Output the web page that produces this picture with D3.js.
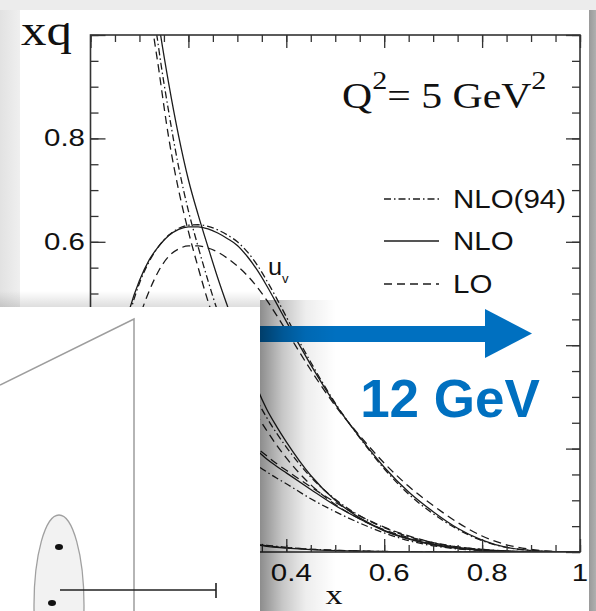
<!DOCTYPE html>
<html>
<head>
<meta charset="utf-8">
<script src="https://cdn.jsdelivr.net/npm/d3@7"></script>
<style>
  html, body { margin: 0; padding: 0; background: #ececec; }
  svg { display: block; }
</style>
</head>
<body>
<div id="chart"></div>
<script>
// x grid shared by every curve
const xs = [0.01,0.02,0.04,0.06,0.08,0.10,0.12,0.14,0.16,0.18,0.20,0.22,0.24,0.26,0.28,0.30,0.32,0.34,0.36,0.38,0.40,0.45,0.50,0.55,0.60,0.65,0.70,0.75,0.80,0.85,0.90,0.95,1.0];

// u valence
const uvNLO94 = [0.13,0.19,0.29,0.38,0.46,0.52,0.562,0.592,0.613,0.626,0.632,0.633,0.630,0.623,0.613,0.600,0.581,0.556,0.525,0.491,0.455,0.367,0.288,0.221,0.161,0.112,0.074,0.044,0.022,0.009,0.003,0.0005,0];
const uvNLO   = [0.14,0.20,0.30,0.39,0.47,0.525,0.565,0.592,0.612,0.624,0.629,0.629,0.625,0.617,0.606,0.593,0.572,0.546,0.515,0.481,0.446,0.362,0.286,0.222,0.164,0.116,0.078,0.046,0.023,0.009,0.003,0.0005,0];
const uvLO    = [0.10,0.16,0.25,0.33,0.40,0.455,0.505,0.545,0.572,0.586,0.592,0.592,0.588,0.58,0.568,0.553,0.535,0.513,0.487,0.458,0.428,0.352,0.283,0.225,0.172,0.127,0.09,0.057,0.031,0.014,0.005,0.001,0];

// gluon (steep curve)
const gNLO94 = [6.3,4.6,3.0,2.2,1.7,1.38,1.12,0.97,0.85,0.745,0.66,0.59,0.525,0.465,0.415,0.37,0.33,0.293,0.26,0.23,0.203,0.145,0.102,0.07,0.047,0.03,0.018,0.01,0.005,0.002,0.0005,0.0001,0];
const gNLO   = [6.0,4.4,2.9,2.15,1.68,1.35,1.16,1.02,0.905,0.805,0.72,0.652,0.59,0.53,0.475,0.422,0.372,0.318,0.276,0.243,0.213,0.148,0.10,0.066,0.042,0.026,0.015,0.008,0.004,0.0015,0.0004,0.0001,0];
const gLO    = [7.0,5.0,3.1,2.2,1.65,1.32,1.07,0.93,0.80,0.70,0.62,0.55,0.485,0.43,0.38,0.34,0.30,0.265,0.235,0.207,0.182,0.13,0.092,0.064,0.043,0.028,0.017,0.01,0.005,0.002,0.0005,0.0001,0];

// d valence
const dvNLO94 = [0.055,0.085,0.13,0.16,0.185,0.205,0.222,0.235,0.244,0.249,0.25,0.247,0.24,0.229,0.215,0.2,0.183,0.168,0.155,0.143,0.132,0.103,0.078,0.056,0.037,0.022,0.012,0.006,0.0025,0.001,0.0003,0,0];
const dvNLO   = [0.06,0.09,0.14,0.175,0.205,0.23,0.25,0.265,0.276,0.283,0.285,0.282,0.274,0.262,0.248,0.232,0.215,0.197,0.18,0.166,0.153,0.121,0.09,0.064,0.041,0.025,0.014,0.007,0.003,0.001,0.0003,0,0];
const dvLO    = [0.045,0.07,0.11,0.145,0.172,0.195,0.215,0.232,0.245,0.255,0.262,0.265,0.263,0.256,0.245,0.232,0.217,0.201,0.186,0.171,0.158,0.126,0.096,0.07,0.048,0.031,0.018,0.009,0.004,0.0015,0.0004,0,0];

// sea (not drawn below x = 0.06 in the picture)
const seaNLO94 = [null,null,null,0.31,0.235,0.18,0.143,0.115,0.093,0.075,0.061,0.05,0.041,0.034,0.028,0.023,0.019,0.016,0.013,0.011,0.009,0.0055,0.0033,0.0019,0.001,0.0005,0.0002,0.0001,0,0,0,0,0];
const seaNLO   = [null,null,null,0.29,0.22,0.17,0.135,0.108,0.087,0.07,0.057,0.046,0.038,0.031,0.025,0.021,0.017,0.014,0.011,0.009,0.0075,0.0045,0.0027,0.0015,0.0008,0.0004,0.0002,0.0001,0,0,0,0,0];
const seaLO    = [null,null,null,0.27,0.205,0.16,0.128,0.103,0.084,0.068,0.056,0.046,0.038,0.032,0.026,0.022,0.018,0.015,0.012,0.01,0.0085,0.0052,0.0032,0.0019,0.001,0.0005,0.0002,0.0001,0,0,0,0,0];

const xTickLabels = [0.2, 0.4, 0.6, 0.8, 1];
const yTickLabels = [0.2, 0.4, 0.6, 0.8];
const legendItems = ["NLO(94)", "NLO", "LO"];

const W = 596, H = 611;
const svg = d3.select('#chart').append('svg').attr('width', W).attr('height', H);

const x = d3.scaleLinear().domain([0, 1]).range([90.5, 580]);
const y = d3.scaleLinear().domain([0, 1]).range([552, 35]);

const dashStyle = { "NLO(94)": "7,3,1.5,3", "NLO": null, "LO": "8,5" };
const ink = '#1c1c1c';

const defs = svg.append('defs');
defs.append('clipPath').attr('id', 'plotclip')
  .append('rect').attr('x', x(0)).attr('y', y(1)).attr('width', x(1) - x(0)).attr('height', y(0) - y(1));

function grad(id, x2, y2, stops) {
  const g = defs.append('linearGradient').attr('id', id)
    .attr('x1', 0).attr('y1', 0).attr('x2', x2).attr('y2', y2);
  stops.forEach(s => g.append('stop').attr('offset', s[0]).attr('stop-color', s[1]).attr('stop-opacity', s[2]));
}
grad('panelShadowR', 1, 0, [[0, '#000', 0.45], [0.3, '#000', 0.22], [0.6, '#000', 0.07], [1, '#000', 0]]);
grad('panelShadowT', 0, 1, [[0, '#000', 0], [1, '#000', 0.13]]);
grad('cardShadowR', 1, 0, [[0, '#9a9a9a', 1], [1, '#b0b0b0', 1]]);
grad('cardShadowL', 1, 0, [[0, '#e2e2e2', 1], [1, '#efefef', 1]]);

function label(parent, str, px, py, o) {
  return parent.append('text')
    .attr('transform', `translate(${px},${py}) scale(${o.sx || 1},1)`)
    .attr('text-anchor', o.anchor || 'start')
    .attr('font-family', o.family || 'Liberation Sans, Arial, sans-serif')
    .attr('font-size', o.size)
    .attr('font-weight', o.weight || 'normal')
    .attr('fill', o.fill || '#111')
    .text(str);
}

// page and card
svg.append('rect').attr('width', W).attr('height', H).attr('fill', '#ececec');
svg.append('rect').attr('x', 0).attr('y', 10).attr('width', 20).attr('height', H).attr('fill', 'url(#cardShadowL)');
svg.append('rect').attr('x', 20).attr('y', 10).attr('width', 569).attr('height', H).attr('fill', '#fff');
svg.append('rect').attr('x', 589).attr('y', 10).attr('width', 7).attr('height', H).attr('fill', 'url(#cardShadowR)');

// curves
const plot = svg.append('g').attr('clip-path', 'url(#plotclip)');
const line = d3.line().defined(d => d[1] !== null)
  .x(d => x(d[0])).y(d => y(d[1])).curve(d3.curveMonotoneX);
const series = [
  [uvNLO94, "NLO(94)"], [uvNLO, "NLO"], [uvLO, "LO"],
  [gNLO94, "NLO(94)"], [gNLO, "NLO"], [gLO, "LO"],
  [dvNLO94, "NLO(94)"], [dvNLO, "NLO"], [dvLO, "LO"],
  [seaNLO94, "NLO(94)"], [seaNLO, "NLO"], [seaLO, "LO"]
];
plot.selectAll('path.curve').data(series).join('path')
  .attr('class', 'curve')
  .attr('d', s => line(xs.map((v, i) => [v, s[0][i]])))
  .attr('fill', 'none')
  .attr('stroke', ink)
  .attr('stroke-width', 1.3)
  .attr('stroke-dasharray', s => dashStyle[s[1]]);

// axes: ticks on all four sides pointing inward
const minor = d3.range(0, 21).map(i => i / 20);
const major = [0, 0.2, 0.4, 0.6, 0.8, 1];
function ticks(axis, tx, ty, vals, size) {
  const g = svg.append('g').attr('transform', `translate(${tx},${ty})`)
    .call(axis.tickValues(vals).tickSize(size).tickFormat(''));
  g.select('.domain').remove();
  g.selectAll('line').attr('stroke', '#333').attr('stroke-width', 1.3);
}
ticks(d3.axisBottom(x), 0, y(0), minor, -7);
ticks(d3.axisBottom(x), 0, y(0), major, -13);
ticks(d3.axisTop(x), 0, y(1), minor, -7);
ticks(d3.axisTop(x), 0, y(1), major, -13);
ticks(d3.axisLeft(y), x(0), 0, minor, -8);
ticks(d3.axisLeft(y), x(0), 0, major, -15);
ticks(d3.axisRight(y), x(1), 0, minor, -8);
ticks(d3.axisRight(y), x(1), 0, major, -14);

svg.append('rect').attr('x', x(0)).attr('y', y(1)).attr('width', x(1) - x(0)).attr('height', y(0) - y(1))
  .attr('fill', 'none').attr('stroke', '#333').attr('stroke-width', 1.6);

// tick labels
xTickLabels.forEach(v => label(svg, String(v), x(v) + (v < 1 ? 5 : 0), 581, { size: 23, sx: 1.28, anchor: 'middle' }));
yTickLabels.forEach(v => label(svg, String(v), 85, y(v) + 8, { size: 23, sx: 1.28, anchor: 'end' }));

// axis titles
const serif = 'Liberation Serif, Times New Roman, serif';
label(svg, 'xq', 21, 45, { size: 45, sx: 1.13, family: serif });
label(svg, 'x', 334, 604, { size: 28, sx: 1.22, family: serif, anchor: 'middle' });

// Q^2 annotation
const q = svg.append('text').attr('transform', 'translate(342,108) scale(1.16,1)')
  .attr('font-family', serif).attr('font-size', 36).attr('fill', '#111');
q.append('tspan').text('Q');
q.append('tspan').attr('font-size', 26).attr('dy', -19).text('2');
q.append('tspan').attr('dy', 19).text('= 5 GeV');
q.append('tspan').attr('font-size', 26).attr('dy', -19).text('2');

// u_v label
label(svg, 'u', 268, 275, { size: 23, sx: 1.1 });
label(svg, 'v', 282, 283, { size: 12, sx: 1.1 });

// legend
const legY = [199, 241, 284];
legendItems.forEach((name, i) => {
  svg.append('line').attr('x1', 384).attr('x2', 439).attr('y1', legY[i]).attr('y2', legY[i])
    .attr('stroke', ink).attr('stroke-width', 1.3).attr('stroke-dasharray', dashStyle[name]);
  label(svg, name, 453, legY[i] + 9, { size: 25, sx: 1.18 });
});

// blue arrow and energy label
const blue = '#0070c0';
svg.append('rect').attr('x', 230).attr('y', 326).attr('width', 257).attr('height', 16).attr('fill', blue);
svg.append('path').attr('d', 'M485,309 L532,333.5 L485,358 Z').attr('fill', blue);
label(svg, '12 GeV', 450, 417, { size: 53, weight: 'bold', fill: blue, anchor: 'middle' });

// overlapping white panel with its shadow
svg.append('rect').attr('x', 260).attr('y', 300).attr('width', 76).attr('height', H - 300).attr('fill', 'url(#panelShadowR)');
svg.append('rect').attr('x', 0).attr('y', 291).attr('width', 260).attr('height', 16).attr('fill', 'url(#panelShadowT)');
const panel = svg.append('g');
panel.append('rect').attr('x', 0).attr('y', 307).attr('width', 260).attr('height', H - 307).attr('fill', '#fff');
panel.append('path').attr('d', 'M0,385 L134,319 L134,611')
  .attr('fill', 'none').attr('stroke', '#9d9d9d').attr('stroke-width', 1.5);
panel.append('ellipse').attr('cx', 59).attr('cy', 605).attr('rx', 25).attr('ry', 90)
  .attr('fill', '#f2f2f2').attr('stroke', '#a0a0a0').attr('stroke-width', 1.3);
panel.append('ellipse').attr('cx', 59).attr('cy', 547).attr('rx', 4).attr('ry', 3).attr('fill', '#111');
panel.append('ellipse').attr('cx', 52).attr('cy', 603).attr('rx', 4).attr('ry', 3).attr('fill', '#111');
panel.append('path').attr('d', 'M60,590 L216,590 M216,583 L216,598')
  .attr('fill', 'none').attr('stroke', '#222').attr('stroke-width', 1.6);
</script>
</body>
</html>
